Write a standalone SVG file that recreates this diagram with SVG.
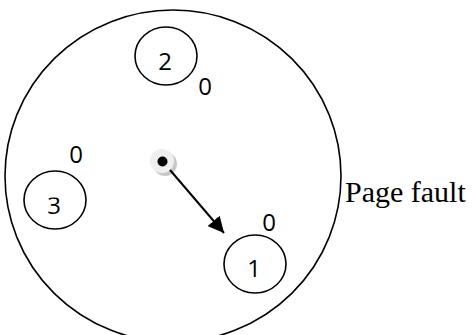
<svg xmlns="http://www.w3.org/2000/svg" width="476" height="335" viewBox="0 0 476 335">
<defs>
<style>
.ring{fill:none;stroke:#000;stroke-width:1.6}
.num{font-family:"Open Sans","Liberation Sans",sans-serif;font-size:24px;fill:#000;text-anchor:middle}
.lbl{font-family:"Liberation Serif","Times New Roman",serif;font-size:30px;fill:#000}
</style>
<marker id="ah" viewBox="0 0 10 10" refX="10" refY="5" markerWidth="8" markerHeight="8" markerUnits="strokeWidth" orient="auto">
<path d="M0,0 L10,5 L0,10 z" fill="#000"/>
</marker>
<clipPath id="c3"><rect x="30" y="197.5" width="50" height="20"/></clipPath>
</defs>
<rect width="476" height="335" fill="#fff"/>
<g id="clock">
<ellipse class="ring" cx="173" cy="176" rx="168" ry="166"/>
</g>
<g id="hand">
<circle cx="165" cy="164" r="12" fill="#c8c8c8"/>
<circle cx="162" cy="161" r="12" fill="#efefef"/>
<circle cx="162.5" cy="161.5" r="5" fill="#000"/>
</g>
<g id="connectors">
<line x1="170" y1="170" x2="224" y2="233" stroke="#000" stroke-width="2" marker-end="url(#ah)"/>
</g>
<g id="page2">
<ellipse class="ring" cx="166" cy="56" rx="31" ry="29"/>
<text class="num" x="165" y="70">2</text>
<text class="num" x="205" y="95">0</text>
</g>
<g id="page3">
<ellipse class="ring" cx="55" cy="200" rx="31" ry="29"/>
<text class="num" x="54" y="214" clip-path="url(#c3)">3</text>
<text class="num" x="76" y="163">0</text>
</g>
<g id="page1">
<ellipse class="ring" cx="255" cy="264" rx="31" ry="29"/>
<text class="num" x="254" y="277">1</text>
<text class="num" x="269" y="231">0</text>
</g>
<g id="label">
<text class="lbl" x="345" y="202">Page fault</text>
</g>
</svg>
